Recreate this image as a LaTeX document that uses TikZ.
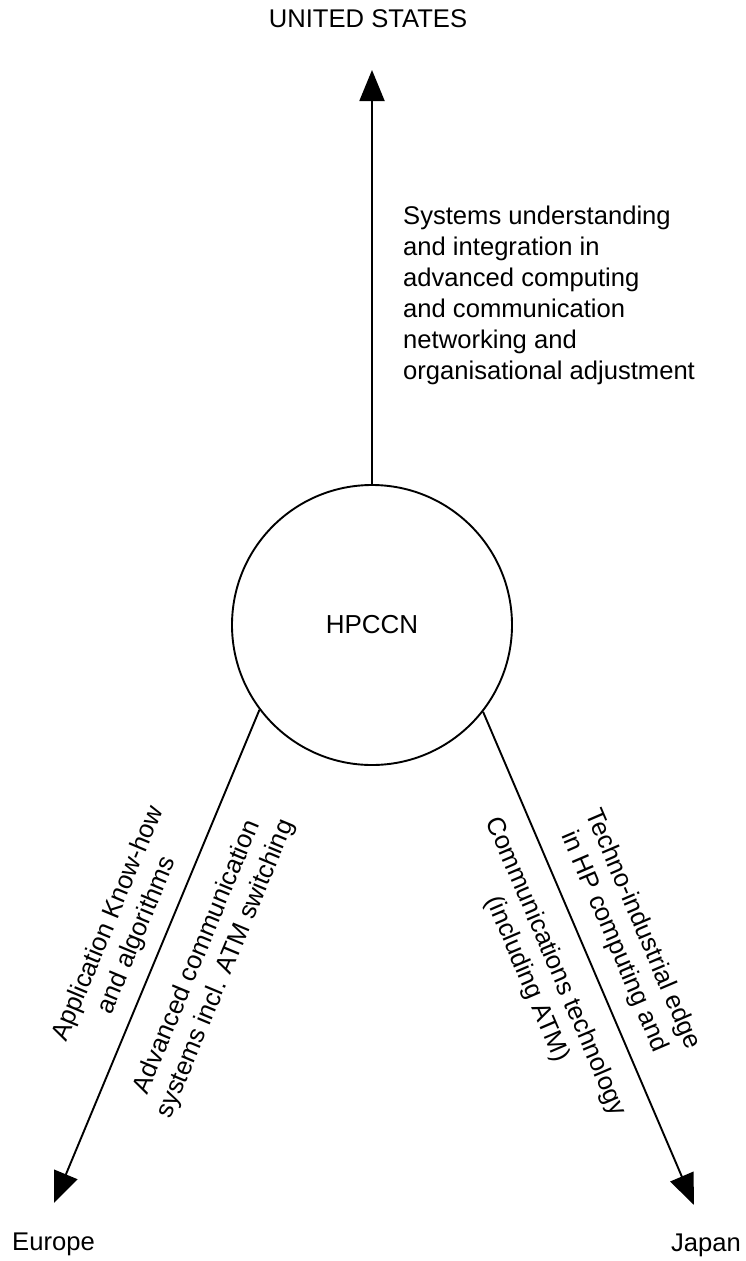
\documentclass[tikz,border=0pt]{standalone}
\usepackage{fontspec}
\setmainfont{Liberation Sans}
\usetikzlibrary{arrows.meta}
\begin{document}
\begin{tikzpicture}[x=1pt,y=-1pt,
  lbl/.style={font=\fontsize{25.6}{31}\selectfont, inner sep=0pt},
  link/.style={line width=1.9pt, -{Triangle[length=31pt,width=25pt]}},
  hubnode/.style={circle, draw, line width=1.9pt, minimum size=280pt,
    inner sep=0pt, font=\fontsize{26}{31}\selectfont}]
\useasboundingbox (0,0) rectangle (745,1261);

% central programme
\node[hubnode] (hub) at (372,625) {HPCCN};

% arrow tips
\coordinate (usTip) at (372,70);
\coordinate (euTip) at (54,1203);
\coordinate (jpTip) at (694,1205);

% region names
\node[lbl, anchor=base] (us) at (368,27) {UNITED STATES};
\node[lbl, anchor=base west] (eu) at (12,1250) {Europe};
\node[lbl, anchor=base east] (jp) at (741,1251) {Japan};

% United States
\draw[link] (hub.90) -- (usTip);
\node[lbl, anchor=north west, align=left] (usText) at (403,206)
  {Systems understanding\\and integration in\\advanced computing\\and communication\\networking and\\organisational adjustment};

% Europe
\draw[link] (hub.217) -- (euTip)
  node[lbl, sloped, pos=0.478, above=13pt, align=center] (euA)
    {Application Know-how\\and algorithms}
  node[lbl, sloped, pos=0.472, below=25pt, align=center] (euB)
    {Advanced communication\\systems incl. ATM switching};

% Japan
\draw[link] (hub.322) -- (jpTip)
  node[lbl, sloped, pos=0.49, above=17pt, align=center] (jpA)
    {Techno-industrial edge\\in HP computing and}
  node[lbl, sloped, pos=0.49, below=21pt, align=center] (jpB)
    {Communications technology\\(including ATM)};
\end{tikzpicture}
\end{document}
